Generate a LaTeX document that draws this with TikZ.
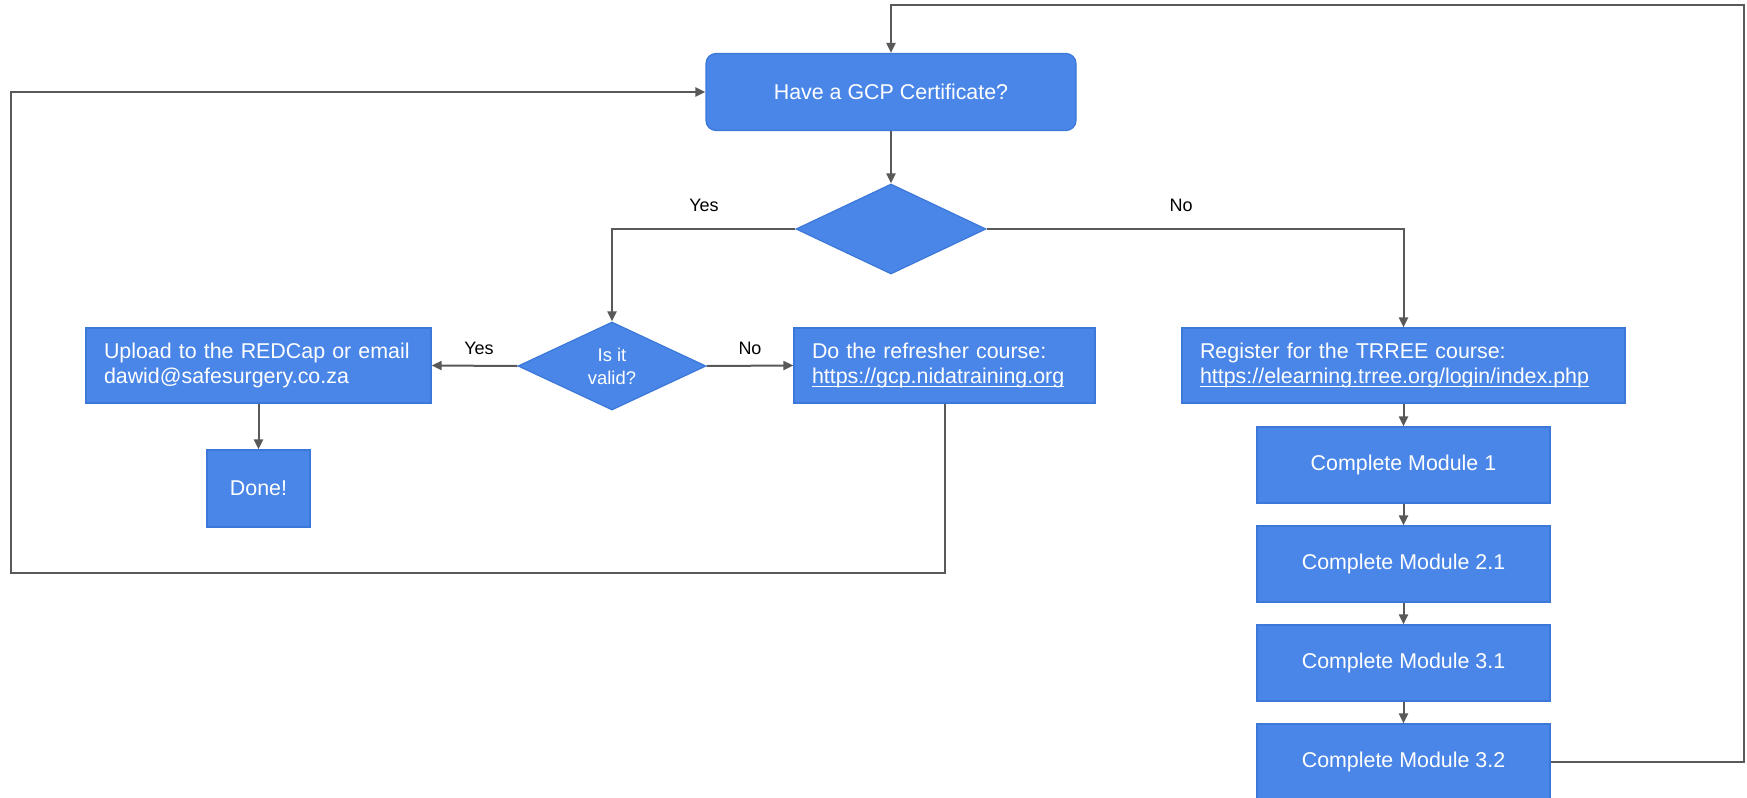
\documentclass[tikz,border=0pt]{standalone}
\usepackage{fontspec}
\setmainfont{Liberation Sans}
\usetikzlibrary{shapes.geometric,arrows.meta}
\definecolor{boxblue}{HTML}{4A86E8}
\definecolor{boxedge}{HTML}{3C78D8}
\definecolor{linegray}{HTML}{595959}
\newsavebox\linkbox
\newcommand\linktext[1]{\leavevmode\sbox\linkbox{#1}\rlap{\rule[-1.6pt]{\wd\linkbox}{0.55pt}}\usebox\linkbox}

\begin{document}
\begin{tikzpicture}[x=0.5pt, y=-0.5pt,
  box/.style={draw=boxedge, line width=0.6pt, fill=boxblue, text=white,
    font=\fontsize{10.7}{12.8}\selectfont, inner sep=0pt, minimum height=37.5pt},
  leftbox/.style={box, align=left, inner xsep=9pt},
  modbox/.style={box, minimum width=146.5pt, minimum height=38pt},
  decision/.style={diamond, draw=boxedge, line width=0.6pt, fill=boxblue, text=white,
    inner sep=0pt, align=center, font=\fontsize{9.2}{11.5}\selectfont},
  lbl/.style={font=\fontsize{9}{11}\selectfont},
  line/.style={draw=linegray, line width=1pt, -{Triangle[length=5pt,width=4.5pt]}}]
\useasboundingbox (0,0) rectangle (1747,798);
% boxes
\node[box, rounded corners=5pt, minimum width=185pt, minimum height=38.5pt] (gcp) at (891,92) {Have a GCP Certificate?};
\node[decision, minimum width=95pt, minimum height=45pt] (dec) at (891,229) {};
\node[decision, minimum width=94pt, minimum height=44pt] (valid) at (612,366) {Is it\\valid?};
\node[leftbox, text width=154.5pt, minimum width=172.5pt] (upload) at (258.5,365.5) {Upload to the REDCap or email\\dawid@safesurgery.co.za};
\node[box, minimum width=51.5pt, minimum height=38.5pt] (done) at (258.5,488.5) {Done!};
\node[leftbox, text width=132.5pt, minimum width=150.5pt] (refr) at (944.5,365.5) {Do the refresher course:\\\linktext{https://gcp.nidatraining.org}};
\node[leftbox, text width=203.5pt, minimum width=221.5pt] (reg) at (1403.5,365.5) {Register for the TRREE course:\\\linktext{https://elearning.trree.org/login/index.php}};
\node[modbox] (m1) at (1403.5,465) {Complete Module 1};
\node[modbox] (m21) at (1403.5,564) {Complete Module 2.1};
\node[modbox] (m31) at (1403.5,663) {Complete Module 3.1};
\node[modbox] (m32) at (1403.5,762) {Complete Module 3.2};
% labels
\node[lbl] (yes1) at (704,205) {Yes};
\node[lbl] (no1) at (1181,205) {No};
\node[lbl] (yes2) at (479,348) {Yes};
\node[lbl] (no2) at (750,348) {No};
% connectors
\coordinate (loopL) at (11,573);
\coordinate (loopR) at (1744,5);
\draw[line] (gcp) -- (dec);
\draw[line] (dec.west) -| (valid.north);
\draw[line] (dec.east) -| (reg.north);
\draw[line] (valid.west) -- (upload.east);
\draw[line] (valid.east) -- (refr.west);
\draw[line] (upload) -- (done);
\draw[line] (reg) -- (m1);
\draw[line] (m1) -- (m21);
\draw[line] (m21) -- (m31);
\draw[line] (m31) -- (m32);
\draw[line] (refr.south) |- (loopL) |- (gcp.west);
\draw[line] (m32.east) -| (loopR) -| (gcp.north);
\end{tikzpicture}
\end{document}
